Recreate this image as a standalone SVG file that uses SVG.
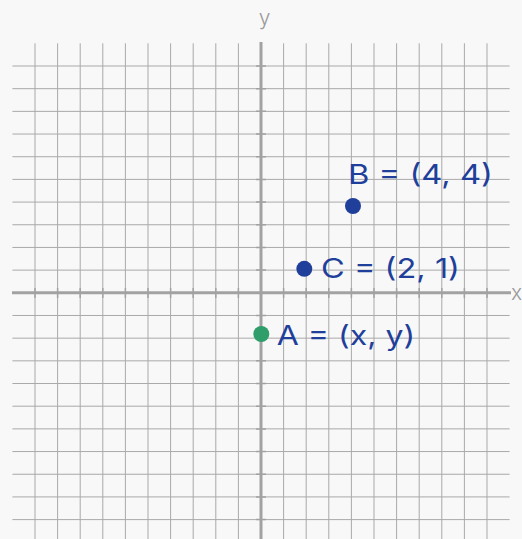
<svg xmlns="http://www.w3.org/2000/svg" width="522" height="539" viewBox="0 0 522 539">
<style>
.grid{stroke:#a9a9a9;stroke-width:1;fill:none}
.axis{stroke:#a2a2a2;stroke-width:3;fill:none}
.tick{stroke:#a2a2a2;stroke-width:1.5;fill:none}
.axlbl{font-family:Inter,"Open Sans",sans-serif;font-size:21px;fill:#9a9a9a;font-weight:300}
.lbl{font-family:Inter,"Open Sans",sans-serif;font-size:27px;fill:#1f3f9b}
.blue{fill:#1f3f9b}
.green{fill:#2f9e6b}
</style>
<rect width="522" height="539" fill="#f8f8f8"/>
<g id="grid">
<path class="grid" d="M35 43.3V539M57.6 43.3V539M80.2 43.3V539M102.8 43.3V539M125.4 43.3V539M148 43.3V539M170.6 43.3V539M193.2 43.3V539M215.8 43.3V539M238.4 43.3V539M283.6 43.3V539M306.2 43.3V539M328.8 43.3V539M351.4 43.3V539M374 43.3V539M396.6 43.3V539M419.2 43.3V539M441.8 43.3V539M464.4 43.3V539M487 43.3V539"/>
<path class="grid" d="M12.4 66H509.6M12.4 88.68H509.6M12.4 111.36H509.6M12.4 134.04H509.6M12.4 156.72H509.6M12.4 179.4H509.6M12.4 202.08H509.6M12.4 224.76H509.6M12.4 247.44H509.6M12.4 270.12H509.6M12.4 315.48H509.6M12.4 338.16H509.6M12.4 360.84H509.6M12.4 383.52H509.6M12.4 406.2H509.6M12.4 428.88H509.6M12.4 451.56H509.6M12.4 474.24H509.6M12.4 496.92H509.6M12.4 519.6H509.6"/>
</g>
<g id="axes">
<path class="axis" d="M12 292.8H511M261 42V539"/>
<path class="tick" d="M35 288V298M57.6 288V298M80.2 288V298M102.8 288V298M125.4 288V298M148 288V298M170.6 288V298M193.2 288V298M215.8 288V298M238.4 288V298M283.6 288V298M306.2 288V298M328.8 288V298M351.4 288V298M374 288V298M396.6 288V298M419.2 288V298M441.8 288V298M464.4 288V298M487 288V298"/>
<path class="tick" d="M256 66H266M256 88.68H266M256 111.36H266M256 134.04H266M256 156.72H266M256 179.4H266M256 202.08H266M256 224.76H266M256 247.44H266M256 270.12H266M256 315.48H266M256 338.16H266M256 360.84H266M256 383.52H266M256 406.2H266M256 428.88H266M256 451.56H266M256 474.24H266M256 496.92H266M256 519.6H266"/>
<text class="axlbl" x="264.5" y="25" text-anchor="middle">y</text>
<text class="axlbl" x="511" y="300">x</text>
</g>
<g id="pointB">
<circle class="blue" cx="353" cy="206" r="8"/>
<text class="lbl" x="348" y="184.3" textLength="145" lengthAdjust="spacingAndGlyphs">B = (4, 4)</text>
</g>
<g id="pointC">
<circle class="blue" cx="304.3" cy="268.8" r="8"/>
<text class="lbl" x="321" y="278.3" textLength="139" lengthAdjust="spacingAndGlyphs">C = (2, 1)</text>
</g>
<g id="pointA">
<circle class="green" cx="261.3" cy="334" r="8"/>
<text class="lbl" x="276.7" y="345" textLength="138.5" lengthAdjust="spacingAndGlyphs">A = (x, y)</text>
</g>
</svg>
